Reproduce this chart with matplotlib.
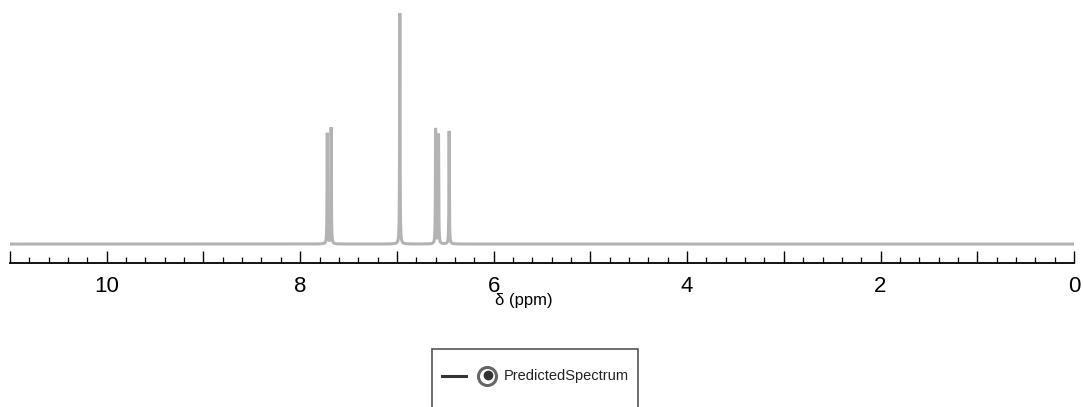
import matplotlib.pyplot as plt
from matplotlib.lines import Line2D
from matplotlib.patches import Rectangle
import numpy as np

plt.rcParams['font.family'] = ['Liberation Sans', 'DejaVu Sans']

# predicted 1H peaks: shift (ppm) and relative intensity
shifts = [7.72, 7.68, 6.97, 6.60, 6.57, 6.46]
heights = [48.0, 50.5, 100.0, 50.0, 47.5, 49.0]
linewidth_ppm = 0.0025

tick_values = [10, 8, 6, 4, 2, 0]
tick_labels = ['10', '8', '6', '4', '2', '0']

# sum of lorentzian lines on a fine ppm grid
ppm = np.linspace(11, 0, 44000)
spectrum = np.zeros_like(ppm)
for s, h in zip(shifts, heights):
    spectrum += h / (1 + ((ppm - s) / linewidth_ppm) ** 2)

fig = plt.figure(figsize=(10.83, 4.07), dpi=100)
ax = fig.add_axes([10 / 1083, 144 / 407, 1064 / 1083, 253 / 407])

ax.plot(ppm, spectrum, color='#b3b3b3', lw=2.2, solid_joinstyle='miter')
ax.set_xlim(11, 0)
ax.set_ylim(-8.2, 101.3)

for side in ['top', 'right', 'left']:
    ax.spines[side].set_visible(False)
ax.spines['bottom'].set_linewidth(1.3)
ax.set_yticks([])

ax.set_xticks(np.arange(0, 12, 1))
ax.set_xticks(np.arange(0, 11.01, 0.2), minor=True)
ax.set_xticklabels([str(v) if v in tick_values else '' for v in range(0, 12)], fontsize=16)
ax.tick_params(axis='x', which='major', direction='in', length=9, width=1.0, pad=9)
ax.tick_params(axis='x', which='minor', direction='in', length=4, width=0.9)

ax.set_xlabel('δ (ppm)', fontsize=12)
ax.xaxis.set_label_coords(0.483, -0.12)

# legend box that runs off the bottom edge
fig.add_artist(Rectangle((432 / 1083, -0.05), 206 / 1083, (407 - 349) / 407 + 0.05,
                         transform=fig.transFigure, fill=False, edgecolor='#555555', lw=1.2))
fig.add_artist(Line2D([442 / 1083, 466 / 1083], [31 / 407, 31 / 407],
                      transform=fig.transFigure, color='#333333', lw=2.2))
fig.add_artist(Line2D([487 / 1083], [31 / 407], transform=fig.transFigure, marker='o',
                      markersize=13, markerfacecolor='white', markeredgecolor='#666666',
                      markeredgewidth=2.2, linestyle='none'))
fig.add_artist(Line2D([488 / 1083], [32 / 407], transform=fig.transFigure, marker='o',
                      markersize=7, markerfacecolor='#333333', markeredgecolor='none',
                      linestyle='none'))
fig.text(504 / 1083, 31 / 407, 'PredictedSpectrum', fontsize=10.5, va='center', ha='left',
         color='#222222')

fig.savefig('out.png', dpi=100)
